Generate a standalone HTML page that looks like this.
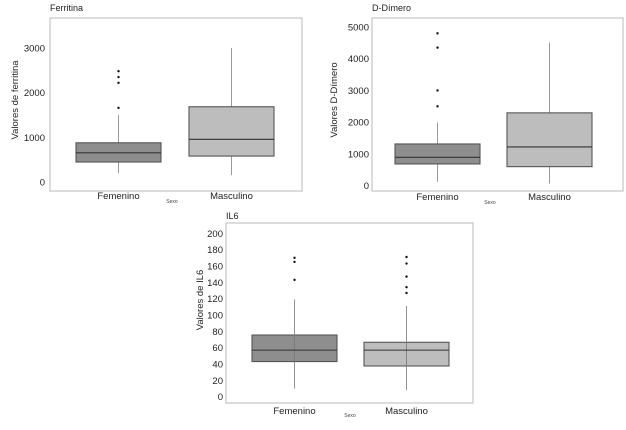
<!DOCTYPE html>
<html><head><meta charset="utf-8"><style>
body{margin:0;background:#fff;width:626px;height:425px;overflow:hidden}
svg{font-family:"Liberation Sans",sans-serif}
</style></head><body>
<svg id="s" width="626" height="425"></svg>
<script>
const categories = ["Femenino","Masculino"];
const ferritinaTicks = [0,1000,2000,3000];
const ferritinaStats = [[200,447,654,878,1500],[155,580,955,1685,3000]];
const ferritinaOutliers = [[2480,2350,2220,1660],[]];
const dimeroTicks = [0,1000,2000,3000,4000,5000];
const dimeroStats = [[125,685,895,1315,1990],[65,600,1220,2295,4510]];
const dimeroOutliers = [[4800,4350,3000,2500],[]];
const il6Ticks = [0,20,40,60,80,100,120,140,160,180,200];
const il6Stats = [[10,43,57,75.5,119],[8,37.6,57,66.6,111]];
const il6Outliers = [[170,165,143],[171,163,147,134,127]];

const NS="http://www.w3.org/2000/svg", svg=document.getElementById('s');
function mk(tag,attrs,parent,txt){const e=document.createElementNS(NS,tag);for(const k in attrs)e.setAttribute(k,attrs[k]);if(txt!==undefined)e.textContent=txt;(parent||svg).appendChild(e);return e;}

const panels=[
 {name:"ferritina",title:"Ferritina",ytitle:"Valores de ferritina",ticks:ferritinaTicks,stats:ferritinaStats,out:ferritinaOutliers,
  fx0:50,fx1:302,fy0:18,fy1:191,v0:0,y0:182,v1:3000,y1:48,lx:45,boxes:[[76,161],[189,274]],ytx:18,yty:100,catY:199,sexo:[172,203],titleY:11,through:false},
 {name:"d-dimero",title:"D-Dímero",ytitle:"Valores D-Dímero",ticks:dimeroTicks,stats:dimeroStats,out:dimeroOutliers,
  fx0:372,fx1:623,fy0:18,fy1:191,v0:0,y0:185.7,v1:5000,y1:27,lx:369,boxes:[[395,480],[507,592]],ytx:337,yty:100,catY:200,sexo:[490,204],titleY:11,through:false},
 {name:"il6",title:"IL6",ytitle:"Valores de IL6",ticks:il6Ticks,stats:il6Stats,out:il6Outliers,
  fx0:226,fx1:473,fy0:223,fy1:403,v0:0,y0:396.7,v1:200,y1:233.3,lx:223,boxes:[[252,337],[364,449]],ytx:203,yty:300,catY:414,sexo:[350,417],titleY:219,through:true}
];
const fills=["#8e8e8e","#bdbdbd"];
panels.forEach(p=>{
 const g=mk('g',{});
 
 
 const Y=v=>p.y0+(v-p.v0)*(p.y1-p.y0)/(p.v1-p.v0);
 const t=mk('text',{x:p.fx0,y:p.titleY,'font-size':9,fill:'#222'},g,p.title);
 
 
 const fr=mk('rect',{x:p.fx0,y:p.fy0,width:p.fx1-p.fx0,height:p.fy1-p.fy0,fill:'none',stroke:'#c4c4c4','stroke-width':1.2},g);
 
 
 p.ticks.forEach(v=>{
  const tl=mk('text',{x:p.lx,y:Y(v)+3.5,'font-size':9.5,'text-anchor':'end',fill:'#222'},g,v);
  
  
 });
 const yt=mk('text',{x:p.ytx,y:p.yty,'font-size':9.5,'text-anchor':'middle',fill:'#222',transform:`rotate(-90 ${p.ytx} ${p.yty})`},g,p.ytitle);
 
 
 categories.forEach((c,i)=>{
  const [bx0,bx1]=p.boxes[i], cx=(bx0+bx1)/2, s=p.stats[i];
  if(!p.through){
   const w1=mk('line',{x1:cx,x2:cx,y1:Y(s[0]),y2:Y(s[1]),stroke:'#999','stroke-width':1},g);
   
   
   const w2=mk('line',{x1:cx,x2:cx,y1:Y(s[3]),y2:Y(s[4]),stroke:'#999','stroke-width':1},g);
   
   
  }
  const b=mk('rect',{x:bx0,y:Y(s[3]),width:bx1-bx0,height:Y(s[1])-Y(s[3]),fill:fills[i],stroke:'#555','stroke-width':1.1},g);
  
  
  if(p.through){
   const w=mk('line',{x1:cx,x2:cx,y1:Y(s[0]),y2:Y(s[4]),stroke:'#777','stroke-width':0.8},g);
   
   
  }
  const m=mk('line',{x1:bx0,x2:bx1,y1:Y(s[2]),y2:Y(s[2]),stroke:'#333','stroke-width':1.1},g);
  
  
  p.out[i].forEach(v=>{
   const o=mk('circle',{cx:cx,cy:Y(v),r:1.2,fill:'#111'},g);
   
   
  });
  const cl=mk('text',{x:cx,y:p.catY,'font-size':9.5,'text-anchor':'middle',fill:'#222'},g,c);
  
  
 });
 const sx=mk('text',{x:p.sexo[0],y:p.sexo[1],'font-size':5,'text-anchor':'middle',fill:'#444'},g,'Sexo');
 
 
});
</script>
</body></html>
